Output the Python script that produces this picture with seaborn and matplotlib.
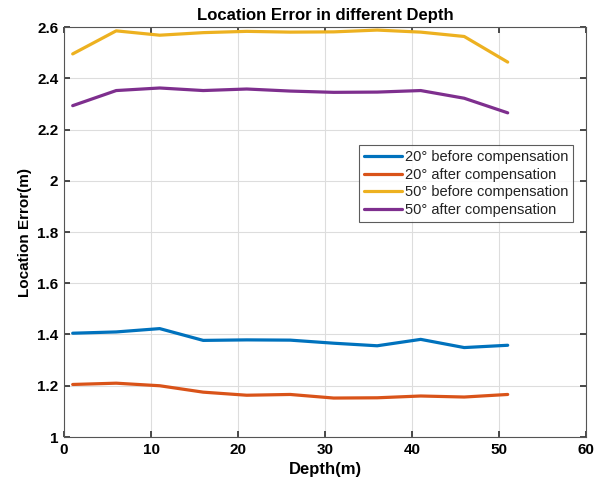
import numpy as np
import pandas as pd
import matplotlib
matplotlib.use("Agg")
import matplotlib.pyplot as plt
import seaborn as sns

depth = [1, 6, 11, 16, 21, 26, 31, 36, 41, 46, 51]
before20 = [1.405, 1.410, 1.423, 1.377, 1.379, 1.378, 1.366, 1.356, 1.381, 1.349, 1.358]
after20 = [1.205, 1.210, 1.200, 1.175, 1.163, 1.166, 1.152, 1.153, 1.160, 1.156, 1.166]
before50 = [2.495, 2.585, 2.568, 2.578, 2.583, 2.580, 2.581, 2.588, 2.580, 2.563, 2.463]
after50 = [2.293, 2.352, 2.362, 2.352, 2.358, 2.350, 2.345, 2.346, 2.352, 2.322, 2.265]
labels = ["20° before compensation", "20° after compensation",
          "50° before compensation", "50° after compensation"]
colors = ["#0072BD", "#D95319", "#EDB120", "#7E2F8E"]

frames = []
for lab, vals in zip(labels, [before20, after20, before50, after50]):
    frames.append(pd.DataFrame({"Depth": depth, "Error": vals, "Series": lab}))
df = pd.concat(frames, ignore_index=True)

sns.set_theme(style="whitegrid")
plt.rcParams['font.family'] = ['Liberation Sans', 'DejaVu Sans']
plt.rcParams['text.color'] = 'black'
plt.rcParams['axes.labelcolor'] = 'black'
plt.rcParams['xtick.color'] = 'black'
plt.rcParams['ytick.color'] = 'black'

fig = plt.figure(figsize=(6.08, 4.9), dpi=100)
ax = fig.add_axes([64/608, 1 - 437/490, (586-64)/608, (437-27)/490])
sns.lineplot(data=df, x="Depth", y="Error", hue="Series", hue_order=labels,
             palette=colors, linewidth=2.3, ax=ax, legend=True)

ax.set_xlim(0, 60)
ax.set_ylim(1, 2.6)
ax.set_xticks(np.arange(0, 61, 10))
ax.set_yticks(np.arange(1, 2.61, 0.2))
ax.set_yticklabels(["1", "1.2", "1.4", "1.6", "1.8", "2", "2.2", "2.4", "2.6"])
ax.grid(True, color="#DDDDDD", linewidth=0.8)
ax.set_facecolor("white")
for s in ax.spines.values():
    s.set_color("#555555")
    s.set_linewidth(0.8)
ax.tick_params(direction="in", length=4, color="#333333", labelsize=11,
               labelcolor="black",
               top=True, right=True, bottom=True, left=True, pad=4)
for t in ax.get_xticklabels() + ax.get_yticklabels():
    t.set_fontweight("bold")
ax.set_xlabel("Depth(m)", fontsize=12, fontweight="bold", color="black")
ax.set_ylabel("Location Error(m)", fontsize=11, fontweight="bold", color="black")
ax.set_title("Location Error in different Depth", fontsize=12, fontweight="bold",
             pad=5, color="black")

leg = ax.legend(loc="upper left", bbox_to_anchor=((359-64)/522, 1 - (145-27)/410),
                fontsize=10.5, frameon=True, fancybox=False, edgecolor="#333333",
                borderpad=0.35, labelspacing=0.25, handlelength=2.6, handletextpad=0.2,
                borderaxespad=0)
leg.get_frame().set_linewidth(0.8)
for line in leg.get_lines():
    line.set_linewidth(2.3)
for t in leg.get_texts():
    t.set_color("#222222")

fig.savefig("out.png", dpi=100)
